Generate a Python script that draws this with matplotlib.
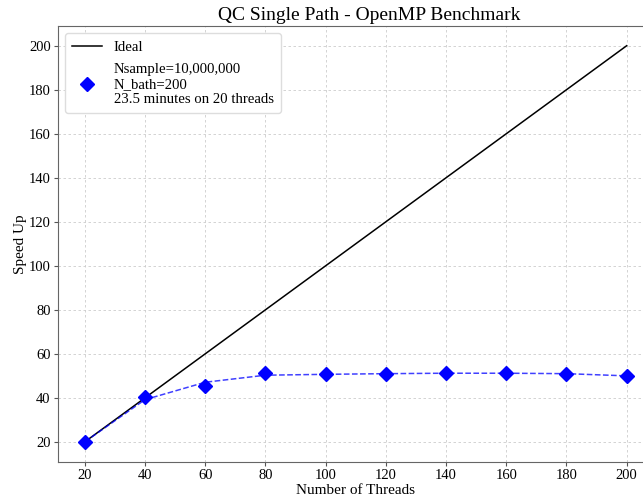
import matplotlib
matplotlib.use("Agg")
import matplotlib.pyplot as plt

plt.rcParams['font.family'] = ['Liberation Serif', 'DejaVu Serif']

# thread counts and measured speed up
threads = [20, 40, 60, 80, 100, 120, 140, 160, 180, 200]
speedup = [20.0, 40.2, 45.2, 51.1, 50.9, 51.0, 51.3, 51.3, 51.0, 49.9]
# smoothed trend drawn as dashed line
trend = [20.0, 39.2, 47.1, 50.3, 50.7, 51.0, 51.2, 51.2, 51.0, 50.0]
ideal = [20, 200]
ideal_x = [20, 200]
xticks = [20, 40, 60, 80, 100, 120, 140, 160, 180, 200]
yticks = [20, 40, 60, 80, 100, 120, 140, 160, 180, 200]

fig = plt.figure(figsize=(6.43, 4.98), dpi=100)
ax = fig.add_axes([0.0897, 0.0729, 0.927, 0.875])

ax.plot(ideal_x, ideal, color='black', linewidth=1.1, label='Ideal', zorder=3)
ax.plot(threads, trend, color='blue', linestyle='--', linewidth=1.1, alpha=0.75, zorder=3)
ax.plot(threads, speedup, linestyle='none', marker='D', markersize=7, color='blue',
        label='Nsample=10,000,000\nN_bath=200\n23.5 minutes on 20 threads', zorder=4)

ax.set_xlim(11, 209)
ax.set_ylim(11, 209)
ax.set_xticks(xticks)
ax.set_yticks(yticks)
ax.tick_params(labelsize=10.5, colors='#555555', labelcolor='black', length=3, pad=2)
ax.grid(True, linestyle=(0, (3, 3)), color='#cccccc', linewidth=0.6)
ax.set_axisbelow(True)
for s in ax.spines.values():
    s.set_color('#666666')

ax.set_title('QC Single Path - OpenMP Benchmark', fontsize=14, pad=4, x=0.523)
ax.set_xlabel('Number of Threads', fontsize=11, labelpad=2)
ax.set_ylabel('Speed Up', fontsize=11, labelpad=1)

leg = ax.legend(loc='upper left', fontsize=10.6, framealpha=1, edgecolor='#dddddd',
                handlelength=2.0, labelspacing=0.6, borderpad=0.5)

fig.savefig('out.png', dpi=100)
